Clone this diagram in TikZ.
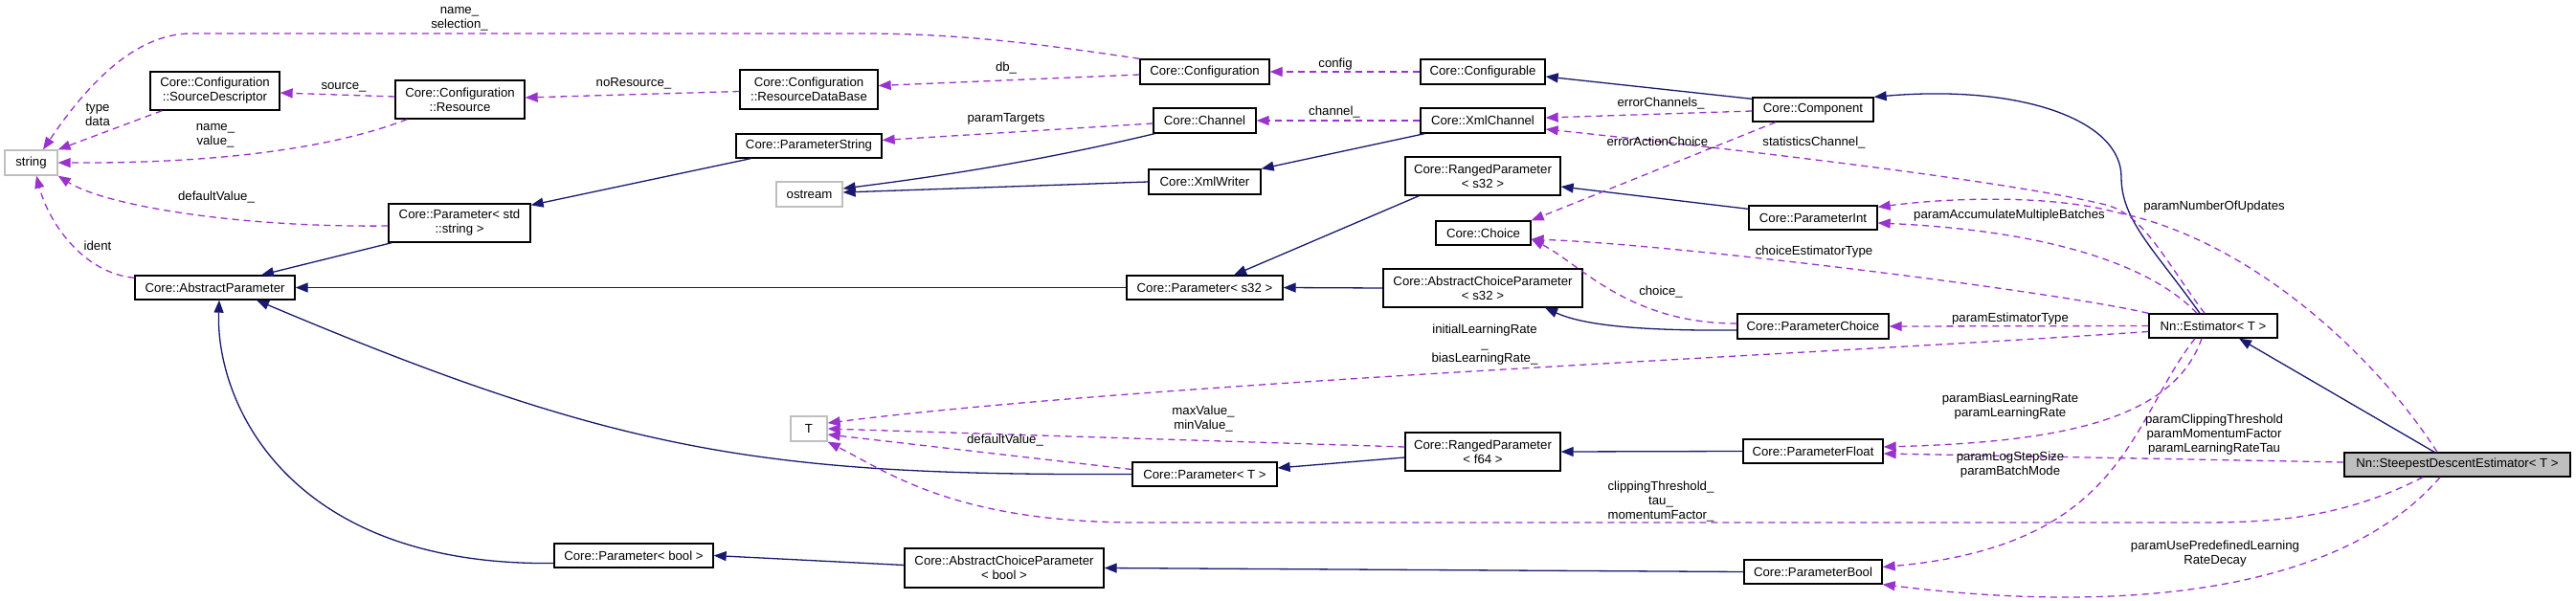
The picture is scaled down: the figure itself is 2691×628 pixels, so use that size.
\documentclass[tikz,border=0pt]{standalone}
\usepackage{fontspec}
\setmainfont{Liberation Sans}
\usetikzlibrary{arrows.meta}
\definecolor{inhc}{HTML}{191970}
\definecolor{usec}{HTML}{9A32CD}
\definecolor{extc}{HTML}{BFBFBF}
\newcommand{\nf}{\fontsize{13.2}{15}\selectfont}
\begin{document}
\begin{tikzpicture}[x=1pt,y=-1pt,
 cls/.style={draw=black,line width=1.3pt,fill=white,font=\nf,align=center,inner sep=0pt},
 ext/.style={cls,draw=extc},
 cur/.style={cls,fill=extc},
 lab/.style={font=\nf,align=center,inner sep=0pt},
 inh/.style={draw=inhc,line width=1.3pt,-{Triangle[length=13pt,width=10pt]}},
 use/.style={draw=usec,line width=1.3pt,dash pattern=on 7pt off 5pt,-{Triangle[length=13pt,width=10pt]}},
]
\useasboundingbox (0,0) rectangle (2691,628);

% nodes
\node[ext,minimum width=55pt,minimum height=26pt] (string) at (32.5,170) {string};
\node[cls,minimum width=135pt,minimum height=40pt] (SD) at (224.5,95) {Core::Configuration\\::SourceDescriptor};
\node[cls,minimum width=135pt,minimum height=40pt] (Resource) at (480.5,104) {Core::Configuration\\::Resource};
\node[cls,minimum width=148pt,minimum height=40pt] (ParamStd) at (480,233) {Core::Parameter< std\\::string >};
\node[cls,minimum width=167pt,minimum height=25pt] (AbsParam) at (224.5,300.5) {Core::AbstractParameter};
\node[cls,minimum width=166pt,minimum height=25pt] (ParamBool) at (662,580.5) {Core::Parameter< bool >};
\node[cls,minimum width=144pt,minimum height=41pt] (RDB) at (845,93.5) {Core::Configuration\\::ResourceDataBase};
\node[cls,minimum width=135pt,minimum height=26pt] (Configuration) at (1258.5,75) {Core::Configuration};
\node[cls,minimum width=107pt,minimum height=26pt] (Channel) at (1258.5,126) {Core::Channel};
\node[cls,minimum width=152pt,minimum height=25pt] (ParamString) at (845,152.5) {Core::ParameterString};
\node[ext,minimum width=69pt,minimum height=26pt] (ostream) at (845.5,203) {ostream};
\node[cls,minimum width=117pt,minimum height=26pt] (XmlWriter) at (1258.5,190) {Core::XmlWriter};
\node[cls,minimum width=163pt,minimum height=25pt] (ParamS32) at (1258.5,300.5) {Core::Parameter< s32 >};
\node[ext,minimum width=38pt,minimum height=26pt] (T) at (845,448) {T};
\node[cls,minimum width=151pt,minimum height=25pt] (ParamT) at (1258.5,495.5) {Core::Parameter< T >};
\node[cls,minimum width=208pt,minimum height=41pt] (ACPbool) at (1049,593.5) {Core::AbstractChoiceParameter\\< bool >};
\node[cls,minimum width=130pt,minimum height=26pt] (Configurable) at (1549,75) {Core::Configurable};
\node[cls,minimum width=130pt,minimum height=26pt] (XmlChannel) at (1549,126) {Core::XmlChannel};
\node[cls,minimum width=126pt,minimum height=25pt] (Component) at (1894,114.5) {Core::Component};
\node[cls,minimum width=162pt,minimum height=40pt] (RPs32) at (1549,184) {Core::RangedParameter\\< s32 >};
\node[cls,minimum width=99pt,minimum height=25pt] (Choice) at (1549.5,243.5) {Core::Choice};
\node[cls,minimum width=134pt,minimum height=25pt] (ParamInt) at (1894,227.5) {Core::ParameterInt};
\node[cls,minimum width=208pt,minimum height=40pt] (ACPs32) at (1549,301) {Core::AbstractChoiceParameter\\< s32 >};
\node[cls,minimum width=158pt,minimum height=26pt] (ParamChoice) at (1894,341) {Core::ParameterChoice};
\node[cls,minimum width=162pt,minimum height=40pt] (RPf64) at (1549,472) {Core::RangedParameter\\< f64 >};
\node[cls,minimum width=146pt,minimum height=25pt] (ParamFloat) at (1894,471.5) {Core::ParameterFloat};
\node[cls,minimum width=144pt,minimum height=25pt] (ParamBoolC) at (1894,597.5) {Core::ParameterBool};
\node[cls,minimum width=134pt,minimum height=25pt] (Estimator) at (2312,340.5) {Nn::Estimator< T >};
\node[cur,minimum width=236pt,minimum height=25pt] (SDE) at (2567,485.5) {Nn::SteepestDescentEstimator< T >};

% inheritance
\draw[inh] ([xshift=4pt]ParamStd.south west) -- ([xshift=48.5pt]AbsParam.north);
\draw[inh] (ParamS32.west) -- (AbsParam.east);
\draw[inh] (ParamT.west) .. controls (800,497) and (650,475) .. ([xshift=43.5pt]AbsParam.south);
\draw[inh] ([yshift=-8pt]ParamBool.west) .. controls (300,592) and (225,420) .. ([xshift=4.5pt]AbsParam.south);
\draw[inh] ([xshift=16pt]ParamString.south west) -- ([yshift=-2pt]ParamStd.north east);
\draw[inh] ([xshift=2pt]Channel.south west) .. controls (1100,165) and (1000,182) .. ([yshift=6pt]ostream.east);
\draw[inh] (XmlWriter.west) -- ([yshift=2pt]ostream.east);
\draw[inh] ([xshift=5pt]XmlChannel.south west) -- (XmlWriter.north east);
\draw[inh] ([yshift=-2pt]Component.north west) -- ([yshift=-5pt]Configurable.east);
\draw[inh] ([xshift=-14pt]Estimator.north) .. controls (2250,260) and (2216,230) .. (2216,185) .. controls (2216,125) and (2110,88) .. (Component.north east);
\draw[inh] ([xshift=15pt]RPs32.south west) -- ([xshift=30.5pt]ParamS32.north);
\draw[inh] (ACPs32.west) -- (ParamS32.east);
\draw[inh] ([yshift=-4pt]ParamInt.north west) -- ([yshift=-11pt]RPs32.east);
\draw[inh] ([yshift=-4pt]ParamChoice.west) .. controls (1700,346) and (1650,338) .. ([xshift=65pt]ACPs32.south);
\draw[inh] (ParamFloat.west) -- (RPf64.east);
\draw[inh] ([yshift=-6pt]RPf64.west) -- ([yshift=6.5pt]ParamT.east);
\draw[inh] (ParamBoolC.west) -- (ACPbool.east);
\draw[inh] ([yshift=3pt]ACPbool.west) -- (ParamBool.east);
\draw[inh] ([xshift=-24pt]SDE.north) -- ([xshift=27pt]Estimator.south);

% usage
\draw[use] (Configuration.north west) .. controls (1080,45) and (1000,35) .. (900,35) -- (200,35) .. controls (140,35) and (90,90) .. ([xshift=12.5pt]string.north);
\draw[use] ([xshift=13pt]SD.south west) -- (string.north east);
\draw[use] ([xshift=13pt]Resource.south west) .. controls (360,150) and (250,171) .. (string.east);
\draw[use] ([yshift=-3pt]ParamStd.west) .. controls (250,238) and (110,215) .. (string.south east);
\draw[use] ([yshift=-3pt]AbsParam.north west) .. controls (85,285) and (50,230) .. ([xshift=5.5pt]string.south);
\draw[use] ([yshift=3pt]Resource.west) -- ([yshift=-2pt]SD.east);
\draw[use] ([yshift=-2pt]RDB.west) -- ([yshift=2pt]Resource.east);
\draw[use] ([yshift=-3pt]Configuration.west) -- ([yshift=4pt]RDB.east);
\draw[use] (Configurable.west) -- (Configuration.east);
\draw[use] ([yshift=-3pt]Channel.west) -- ([yshift=6pt]ParamString.east);
\draw[use] (XmlChannel.west) -- (Channel.east);
\draw[use] ([yshift=-1.5pt]Component.west) -- ([yshift=3pt]XmlChannel.east);
\draw[use] ([xshift=-39pt]Component.south) -- (Choice.north east);
\draw[use] ([xshift=-9pt]Estimator.north) .. controls (2260,270) and (2240,225) .. (2200,214) .. controls (2100,190) and (1850,160) .. ([yshift=-9pt]XmlChannel.east);
\draw[use] (Estimator.north west) .. controls (2150,305) and (1750,255) .. ([yshift=-6.5pt]Choice.east);
\draw[use] ([yshift=3pt]ParamChoice.west) .. controls (1700,338) and (1650,275) .. ([yshift=-6.5pt]Choice.east);
\draw[use] (Estimator.west) -- (ParamChoice.east);
\draw[use] ([yshift=-6pt]Estimator.west) .. controls (1900,370) and (1200,400) .. ([yshift=6pt]T.east);
\draw[use] ([yshift=5pt]ParamT.west) -- ([yshift=-6pt]T.east);
\draw[use] ([yshift=5pt]RPf64.west) -- (T.east);
\draw[use] ([xshift=-36pt]SDE.south) .. controls (2450,540) and (2380,546) .. (2300,546) -- (1190,546) .. controls (1000,546) and (930,495) .. (T.south east);
\draw[use] ([xshift=-12pt]Estimator.south) .. controls (2270,440) and (2150,462) .. ([yshift=4.5pt]ParamFloat.east);
\draw[use] ([yshift=2.5pt]SDE.west) -- ([yshift=-2.5pt]ParamFloat.east);
\draw[use] ([xshift=-19pt]Estimator.south) .. controls (2225,440) and (2220,570) .. ([yshift=5pt]ParamBoolC.east);
\draw[use] ([xshift=-18pt]SDE.south) .. controls (2440,625) and (2200,640) .. (ParamBoolC.south east);
\draw[use] ([xshift=-17pt]Estimator.north) .. controls (2240,270) and (2120,240) .. ([yshift=-5.5pt]ParamInt.east);
\draw[use] ([xshift=-21pt]SDE.north) .. controls (2480,370) and (2350,250) .. (2211,222) .. controls (2150,205) and (2050,205) .. ([yshift=-2pt]ParamInt.north east);

% labels
\node[lab] (l1) at (480,20) {name\_\\selection\_};
\node[lab] (l2) at (102,120) {type\\data};
\node[lab] (l3) at (225,142) {name\_\\value\_};
\node[lab] (l4) at (226,206) {defaultValue\_};
\node[lab] (l5) at (102,257) {ident};
\node[lab] (l6) at (359,91) {source\_};
\node[lab] (l7) at (662,87) {noResource\_};
\node[lab] (l8) at (1051,71) {db\_};
\node[lab] (l9) at (1395,67) {config};
\node[lab] (l10) at (1051,124) {paramTargets};
\node[lab] (l11) at (1394,117) {channel\_};
\node[lab] (l12) at (1735,108) {errorChannels\_};
\node[lab] (l13) at (1735,149) {errorActionChoice\_};
\node[lab] (l14) at (1895,149) {statisticsChannel\_};
\node[lab] (l15) at (1895,263) {choiceEstimatorType};
\node[lab] (l16) at (1735,305) {choice\_};
\node[lab] (l17) at (2100,333) {paramEstimatorType};
\node[lab] (l18) at (1551,360) {initialLearningRate\\\_\\biasLearningRate\_};
\node[lab] (l19) at (1050,460) {defaultValue\_};
\node[lab] (l20) at (1257,438) {maxValue\_\\minValue\_};
\node[lab] (l21) at (1735,524) {clippingThreshold\_\\tau\_\\momentumFactor\_};
\node[lab] (l22) at (2100,425) {paramBiasLearningRate\\paramLearningRate};
\node[lab] (l23) at (2313,454) {paramClippingThreshold\\paramMomentumFactor\\paramLearningRateTau};
\node[lab] (l24) at (2100,486) {paramLogStepSize\\paramBatchMode};
\node[lab] (l25) at (2314,579) {paramUsePredefinedLearning\\RateDecay};
\node[lab] (l26) at (2099,225) {paramAccumulateMultipleBatches};
\node[lab] (l27) at (2313,216) {paramNumberOfUpdates};
\end{tikzpicture}
\end{document}
